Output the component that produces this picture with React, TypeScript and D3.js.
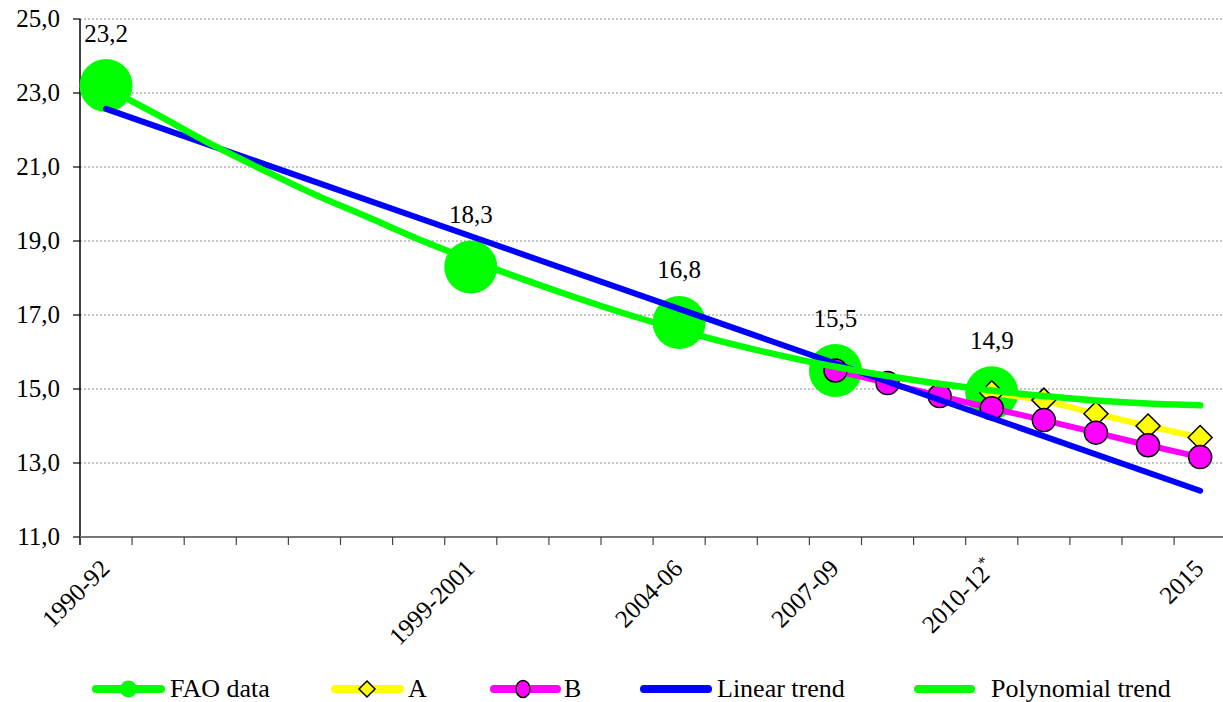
import React from 'react';
import * as d3 from 'd3';

// x categories (22 slots, only some are labelled)
const categoryLabels = [
  '1990-92', '', '', '', '', '', '', '1999-2001', '', '', '', '2004-06', '', '',
  '2007-09', '', '', '2010-12*', '', '', '', '2015',
];

const yTicks = [11, 13, 15, 17, 19, 21, 23, 25];

// FAO data points
const faoIdx = [0, 7, 11, 14, 17];
const faoValues = [23.2, 18.3, 16.8, 15.5, 14.9];

// scenario A (diamonds) and B (circles)
const aIdx = [17, 18, 19, 20, 21];
const aValues = [14.9, 14.7, 14.33, 14.0, 13.69];
const bIdx = [14, 15, 16, 17, 18, 19, 20, 21];
const bValues = [15.5, 15.16, 14.81, 14.48, 14.16, 13.82, 13.48, 13.16];

// trend lines
const linearIdx = [0, 21];
const linearValues = [22.57, 12.25];
const polyValues = [
  23.15, 22.4, 21.63, 20.93, 20.26, 19.66, 19.05, 18.49, 17.97, 17.48, 17.02,
  16.6, 16.22, 15.89, 15.6, 15.35, 15.14, 14.96, 14.81, 14.69, 14.61, 14.56,
];

const W = 1223;
const H = 702;
const left = 80;
const top = 19;
const bottom = 537;
const right = left + 22 * 52.1;

const fontStyle = { fontFamily: 'Liberation Serif, DejaVu Serif, Times New Roman, serif' };

const fmt = (v: number) => v.toFixed(1).replace('.', ',');

export default function App() {
  const x = d3.scaleBand<number>().domain(d3.range(categoryLabels.length)).range([left, right]);
  const cx = (i: number) => (x(i) as number) + x.bandwidth() / 2;
  const y = d3.scaleLinear().domain([11, 25]).range([bottom, top]);

  const line = d3.line<[number, number]>().x(d => cx(d[0])).y(d => y(d[1]));
  const smooth = d3.line<[number, number]>().x(d => cx(d[0])).y(d => y(d[1])).curve(d3.curveCatmullRom);

  const aPts = aIdx.map((i, k) => [i, aValues[k]] as [number, number]);
  const bPts = bIdx.map((i, k) => [i, bValues[k]] as [number, number]);
  const linPts = linearIdx.map((i, k) => [i, linearValues[k]] as [number, number]);
  const polyPts = polyValues.map((v, i) => [i, v] as [number, number]);

  const diamond = (px: number, py: number, s: number) =>
    `M${px},${py - s}L${px + s},${py}L${px},${py + s}L${px - s},${py}Z`;

  const legendY = 689;
  const legend = [
    { x1: 96, x2: 161, color: '#00FF00', marker: 'fao', mx: 128.5, tx: 170, label: 'FAO data' },
    { x1: 335, x2: 400, color: '#FFFF00', marker: 'a', mx: 367, tx: 408, label: 'A' },
    { x1: 494, x2: 557, color: '#FF00FF', marker: 'b', mx: 523, tx: 564, label: 'B' },
    { x1: 644, x2: 708, color: '#0000FF', marker: '', mx: 0, tx: 717, label: 'Linear trend' },
    { x1: 918, x2: 971, color: '#00FF00', marker: '', mx: 0, tx: 991, label: 'Polynomial trend' },
  ];

  return (
    <div style={{ position: 'absolute', left: 0, top: 0 }}>
      <svg width={W} height={H} style={{ display: 'block', background: '#fff', ...fontStyle }}>
        {/* gridlines */}
        {yTicks.filter(t => t > 11).map(t => (
          <line key={'g' + t} x1={left} x2={W} y1={y(t)} y2={y(t)}
            stroke="#8a8a8a" strokeWidth={1} strokeDasharray="2,2" />
        ))}
        {/* y axis */}
        <line x1={left} x2={left} y1={top} y2={bottom + 8} stroke="#000" strokeWidth={1.5} />
        {yTicks.map(t => (
          <g key={'y' + t}>
            <line x1={left - 7} x2={left} y1={y(t)} y2={y(t)} stroke="#000" strokeWidth={1.2} />
            <text x={60} y={y(t) + 8} textAnchor="end" fontSize={25} fill="#000" style={fontStyle}>
              {fmt(t)}
            </text>
          </g>
        ))}
        {/* x axis */}
        <line x1={left} x2={W} y1={bottom} y2={bottom} stroke="#777" strokeWidth={2} />
        {d3.range(categoryLabels.length + 1).map(i => (
          <line key={'xt' + i} x1={left + i * x.bandwidth()} x2={left + i * x.bandwidth()}
            y1={bottom} y2={bottom + 8} stroke="#444" strokeWidth={1.2} />
        ))}
        {categoryLabels.map((lab, i) => lab === '' ? null : (
          <text key={'xl' + i} transform={`translate(${cx(i) + 5},${bottom + 33}) rotate(-45)`}
            textAnchor="end" fontSize={25} fill="#000" style={fontStyle}>
            {lab.endsWith('*') ? (
              <>
                {lab.slice(0, -1)}
                <tspan fontSize={16} dy={-10}>*</tspan>
              </>
            ) : lab}
          </text>
        ))}

        {/* FAO data markers */}
        {faoIdx.map((i, k) => (
          <circle key={'f' + i} cx={cx(i)} cy={y(faoValues[k])} r={26.5} fill="#00FF00" />
        ))}

        {/* scenario A */}
        <path d={line(aPts) || ''} fill="none" stroke="#FFFF00" strokeWidth={6} strokeLinecap="round" />
        {aPts.map(p => (
          <path key={'a' + p[0]} d={diamond(cx(p[0]), y(p[1]), 12)} fill="#FFFF00" stroke="#000" strokeWidth={1.5} />
        ))}

        {/* scenario B */}
        <path d={line(bPts) || ''} fill="none" stroke="#FF00FF" strokeWidth={6} strokeLinecap="round" />
        {bPts.map(p => (
          <circle key={'b' + p[0]} cx={cx(p[0])} cy={y(p[1])} r={11.5} fill="#FF00FF" stroke="#000" strokeWidth={1.5} />
        ))}

        {/* trends */}
        <path d={line(linPts) || ''} fill="none" stroke="#0000FF" strokeWidth={6} strokeLinecap="round" />
        <path d={smooth(polyPts) || ''} fill="none" stroke="#00FF00" strokeWidth={6.5} strokeLinecap="round" />

        {/* data labels */}
        {faoIdx.map((i, k) => (
          <text key={'dl' + i} x={cx(i)} y={y(faoValues[k]) - 44} textAnchor="middle"
            fontSize={25} fill="#000" style={fontStyle}>
            {fmt(faoValues[k])}
          </text>
        ))}

        {/* legend */}
        {legend.map(l => (
          <g key={l.label}>
            <line x1={l.x1} x2={l.x2} y1={legendY} y2={legendY} stroke={l.color} strokeWidth={8} strokeLinecap="round" />
            {l.marker === 'fao' && <circle cx={l.mx} cy={legendY} r={8.5} fill="#00FF00" />}
            {l.marker === 'a' && <path d={diamond(l.mx, legendY, 8)} fill="#FFFF00" stroke="#000" strokeWidth={1.5} />}
            {l.marker === 'b' && <ellipse cx={l.mx} cy={legendY} rx={7} ry={8.5} fill="#FF00FF" stroke="#000" strokeWidth={1.5} />}
            <text x={l.tx} y={legendY + 8} fontSize={26} fill="#000" style={fontStyle}>{l.label}</text>
          </g>
        ))}
      </svg>
    </div>
  );
}
